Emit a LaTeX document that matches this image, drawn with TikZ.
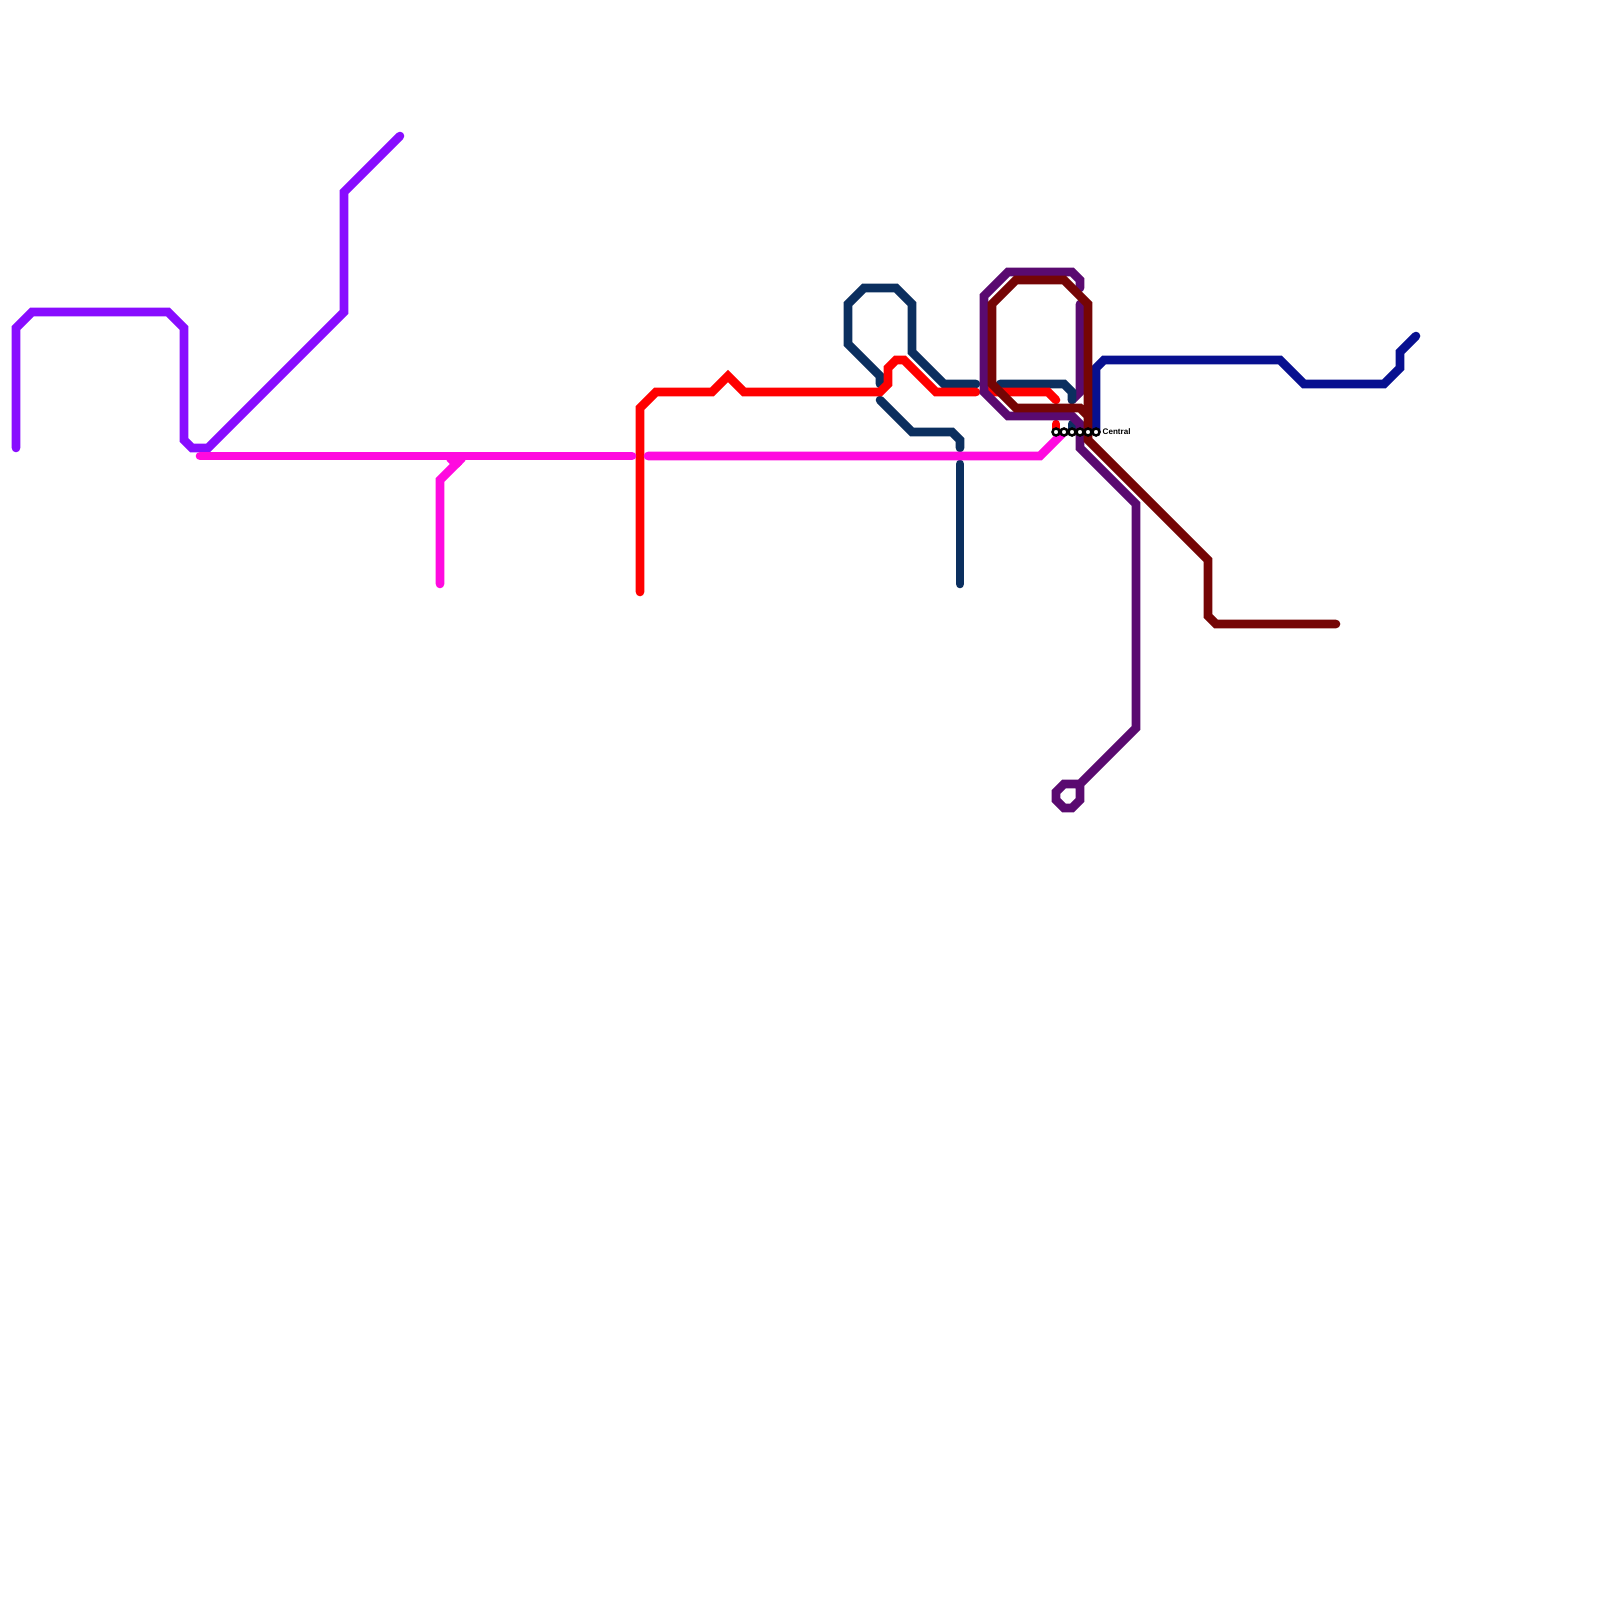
\documentclass[tikz,border=0pt]{standalone}
\usepackage{fontspec}
\setmainfont{Liberation Sans}
\definecolor{lviolet}{HTML}{880DFF}
\definecolor{lmagenta}{HTML}{FF0ADF}
\definecolor{lred}{HTML}{FF0000}
\definecolor{lnavy}{HTML}{0B2F5F}
\definecolor{lblue}{HTML}{081090}
\definecolor{lpurple}{HTML}{5A0A70}
\definecolor{lmaroon}{HTML}{750505}
\tikzset{
  metro/.style={line width=0.086cm,line cap=round,line join=miter,miter limit=10},
  halt/.style={circle,draw=black,fill=white,line width=0.025cm,minimum size=0.07cm,inner sep=0pt},
  haltlabel/.style={font=\bfseries\fontsize{2.3}{3}\selectfont,anchor=west,inner sep=0pt,text=black}
}
\begin{document}
\begin{tikzpicture}[x=0.01cm,y=-0.01cm]
\useasboundingbox[fill=white] (0,0) rectangle (1600,1600);
% violet
\draw[metro,lviolet] (16,448)--(16,328)--(32,312)--(168,312)--(184,328)--(184,440)--(192,448)--(208,448)--(344,312)--(344,192)--(400,136);
% purple second arm, below the navy line
\draw[metro,lpurple] (1080,304)--(1080,392)--(1072,400);
% navy
\draw[metro,lnavy] (960,584)--(960,464);
\draw[metro,lnavy] (960,448)--(960,440)--(952,432)--(912,432)--(880,400);
\draw[metro,lnavy] (880,384)--(880,376)--(848,344)--(848,304)--(864,288)--(896,288)--(912,304)--(912,352)--(944,384)--(976,384);
\draw[metro,lnavy] (1000,384)--(1064,384)--(1072,392)--(1072,400);
\draw[metro,lnavy] (1072,432)--(1072,424);
% red
\draw[metro,lred] (640,592)--(640,408)--(656,392)--(712,392)--(728,376)--(744,392)--(880,392)--(888,384)--(888,368)--(896,360)--(904,360)--(936,392)--(976,392);
\draw[metro,lred] (984,384)--(992,392)--(1048,392)--(1056,400);
\draw[metro,lred] (1056,432)--(1056,424);
% magenta
\draw[metro,lmagenta] (200,456)--(632,456);
\draw[metro,lmagenta] (648,456)--(1040,456)--(1064,432);
\draw[metro,lmagenta] (440,584)--(440,480)--(456,464)--(450,458);
\draw[metro,lmagenta] (456,464)--(462,458);
% blue
\draw[metro,lblue] (1096,432)--(1096,368)--(1104,360)--(1280,360)--(1304,384)--(1384,384)--(1400,368)--(1400,352)--(1416,336);
% purple
\draw[metro,lpurple] (1080,288)--(1080,280)--(1072,272)--(1008,272)--(984,296)--(984,392)--(1008,416)--(1072,416)--(1080,424)--(1080,448)--(1136,504)--(1136,728)--(1080,784)--(1064,784)--(1056,792)--(1056,800)--(1064,808)--(1072,808)--(1080,800)--(1080,784);
% maroon
\draw[metro,lmaroon] (1088,416)--(1080,408)--(1016,408)--(992,384)--(992,304)--(1016,280)--(1064,280)--(1088,304)--(1088,440)--(1208,560)--(1208,616)--(1216,624)--(1336,624);
% stations
\node[halt] (s1) at (1056,432) {};
\node[halt] (s2) at (1064,432) {};
\node[halt] (s3) at (1072,432) {};
\node[halt] (s4) at (1080,432) {};
\node[halt] (s5) at (1088,432) {};
\node[halt] (s6) at (1096,432) {};
\node[haltlabel] (central) at (1102,432) {Central};
\end{tikzpicture}
\end{document}
